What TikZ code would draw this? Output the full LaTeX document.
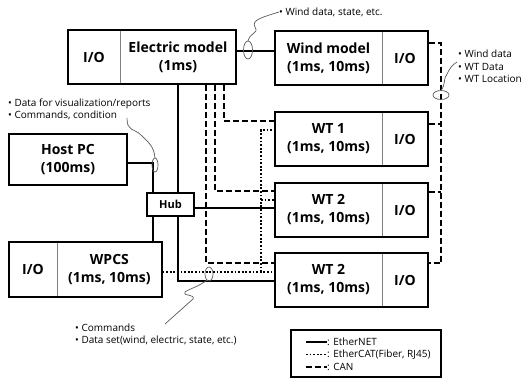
\documentclass[tikz,border=0pt]{standalone}
\usepackage{fontspec}
\setmainfont{Open Sans}
\usetikzlibrary{positioning, fit, calc}
\definecolor{ink}{HTML}{000000}
\definecolor{wire}{HTML}{5A5A5A}

\begin{document}
\begin{tikzpicture}[x=1pt, y=-1pt,
    part/.style={font=\bfseries\fontsize{14}{18}\selectfont, align=center,
                 minimum height=54pt, inner sep=0pt, text=ink},
    frame/.style={draw=ink, line width=1.8pt, inner sep=0pt},
    divider/.style={draw=ink!50, line width=0.8pt},
    ether/.style={draw=ink, line width=1.8pt},
    ecat/.style={draw=ink, line width=1.8pt, dash pattern=on 1.8pt off 1.8pt},
    can/.style={draw=ink, line width=1.8pt, dash pattern=on 6pt off 3pt},
    bundle/.style={draw=wire, line width=0.7pt},
    squig/.style={draw=wire, line width=0.7pt},
    note/.style={font=\fontsize{10}{12.5}\selectfont, align=left,
                 inner sep=0pt, text=ink}]
  \useasboundingbox (0,0) rectangle (525,378);

  % simulators
  \node[part, minimum width=52pt] (elecio) at (94,57) {I/O};
  \node[part, minimum width=115pt, right=0pt of elecio] (elec) {Electric model\\(1ms)};
  \draw[divider] (elecio.north east) -- (elecio.south east);
  \node[frame, fit=(elecio)(elec)] (elecbox) {};

  \node[part, minimum width=107pt] (wind) at (328.5,58) {Wind model\\(1ms, 10ms)};
  \node[part, minimum width=45pt, right=0pt of wind] (windio) {I/O};
  \draw[divider] (windio.north west) -- (windio.south west);
  \node[frame, fit=(wind)(windio)] (windbox) {};

  \node[part, minimum width=107pt] (wta) at (328.5,139) {WT 1\\(1ms, 10ms)};
  \node[part, minimum width=45pt, right=0pt of wta] (wtaio) {I/O};
  \draw[divider] (wtaio.north west) -- (wtaio.south west);
  \node[frame, fit=(wta)(wtaio)] (wtabox) {};

  \node[part, minimum width=107pt] (wtb) at (328.5,210) {WT 2\\(1ms, 10ms)};
  \node[part, minimum width=45pt, right=0pt of wtb] (wtbio) {I/O};
  \draw[divider] (wtbio.north west) -- (wtbio.south west);
  \node[frame, fit=(wtb)(wtbio)] (wtbbox) {};

  \node[part, minimum width=107pt] (wtc) at (328.5,280) {WT 2\\(1ms, 10ms)};
  \node[part, minimum width=45pt, right=0pt of wtc] (wtcio) {I/O};
  \draw[divider] (wtcio.north west) -- (wtcio.south west);
  \node[frame, fit=(wtc)(wtcio)] (wtcbox) {};

  \node[part, frame, minimum width=118pt, minimum height=51pt] (host) at (68,159.5) {Host PC\\(100ms)};
  \node[part, frame, font=\bfseries\fontsize{11}{13}\selectfont,
        minimum width=47pt, minimum height=23pt] (hub) at (170.5,204.5) {Hub};

  \node[part, minimum width=48pt, minimum height=55pt] (wpcsio) at (33,269.5) {I/O};
  \node[part, minimum width=104pt, minimum height=55pt, right=0pt of wpcsio] (wpcs) {WPCS\\(1ms, 10ms)};
  \draw[divider] (wpcsio.north east) -- (wpcsio.south east);
  \node[frame, fit=(wpcsio)(wpcs)] (wpcsbox) {};

  % EtherNET
  \draw[ether] (elecbox.east |- 0,51) -- (windbox.west |- 0,51);
  \draw[ether] (host.east |- 0,163) -| (hub.north -| 153,0);
  \draw[ether] (elecbox.south -| 178,0) -- (hub.north -| 178,0);
  \draw[ether] (hub.east |- 0,208) -- (wtbbox.west |- 0,208);
  \draw[ether] (hub.south -| 153,0) -- (wpcsbox.north -| 153,0);
  \draw[ether] (hub.south -| 178,0) |- (wtcbox.west |- 0,281);

  % EtherCAT
  \coordinate (ecbus) at (261,272);
  \draw[ecat] (wpcsbox.east |- ecbus) -- (wtcbox.west |- ecbus);
  \draw[ecat] (ecbus) |- (wtabox.west |- 0,130);
  \draw[ecat] (ecbus |- 0,200) -- (wtbbox.west |- 0,200);

  % CAN
  \draw[can] (elecbox.south -| 224,0) |- (wtabox.west |- 0,121);
  \draw[can] (elecbox.south -| 215,0) |- (wtbbox.west |- 0,191);
  \draw[can] (elecbox.south -| 206,0) |- (wtcbox.west |- 0,263);
  \coordinate (canbus) at (441,43);
  \draw[can] (windbox.east |- canbus) -| (canbus |- 0,263) -- (wtcbox.east |- 0,263);
  \draw[can] (wtabox.east |- 0,124) -- (canbus |- 0,124);
  \draw[can] (wtbbox.east |- 0,192) -- (canbus |- 0,192);

  % cable ties and notes
  \coordinate (windtie) at (248,50);
  \coordinate (hosttie) at (155,165);
  \coordinate (cantie) at (441,95);
  \coordinate (wpcstie) at (209,274);
  \draw[bundle] (windtie) ellipse [x radius=4.5, y radius=9];
  \draw[bundle] (hosttie) ellipse [x radius=3, y radius=7];
  \draw[bundle] (cantie) ellipse [x radius=8, y radius=4.5];
  \draw[bundle] (wpcstie) ellipse [x radius=4, y radius=7];

  \node[note, anchor=west] (windnote) at (279,12) {• Wind data, state, etc.};
  \node[note, anchor=west] (hostnote) at (8,109.5) {• Data for visualization/reports\\• Commands, condition};
  \node[note, anchor=west] (cannote) at (458,66.5) {• Wind data\\• WT Data\\• WT Location};
  \node[note, anchor=west] (wpcsnote) at (75,334.5) {• Commands\\• Data set(wind, electric, state, etc.)};

  \draw[squig] ($(windtie)+(0,-9)$) .. controls (250,32) and (259,34) .. (255,27)
               .. controls (251,20) and (263,17) .. (windnote.west);
  \draw[squig] ($(hosttie)+(0,-7)$) .. controls (154,146) and (148,142) .. (141,135)
               .. controls (134,128) and (127,132) .. (127,118);
  \draw[squig] ($(cantie)+(0,-4.5)$) .. controls (446,84) and (443,79) .. (447,74)
               .. controls (450,68) and (452,65) .. (457,62);
  \draw[squig] ($(wpcstie)+(-2,6)$) .. controls (200,286) and (189,289) .. (185,292)
               .. controls (181,296) and (196,294) .. (193,299) -- (165,324);

  % legend
  \node[frame, minimum width=150pt, minimum height=47pt] (legend) at (366,353.5) {};
  \node[note, anchor=west] (legeth) at (327,342) {: EtherNET};
  \node[note, anchor=west] (legecat) at (327,354.5) {: EtherCAT(Fiber, RJ45)};
  \node[note, anchor=west] (legcan) at (327,367) {: CAN};
  \draw[ether] ([xshift=-21pt]legeth.west) -- (legeth.west);
  \draw[ecat] ([xshift=-21pt]legecat.west) -- (legecat.west);
  \draw[can] ([xshift=-21pt]legcan.west) -- (legcan.west);
\end{tikzpicture}
\end{document}
